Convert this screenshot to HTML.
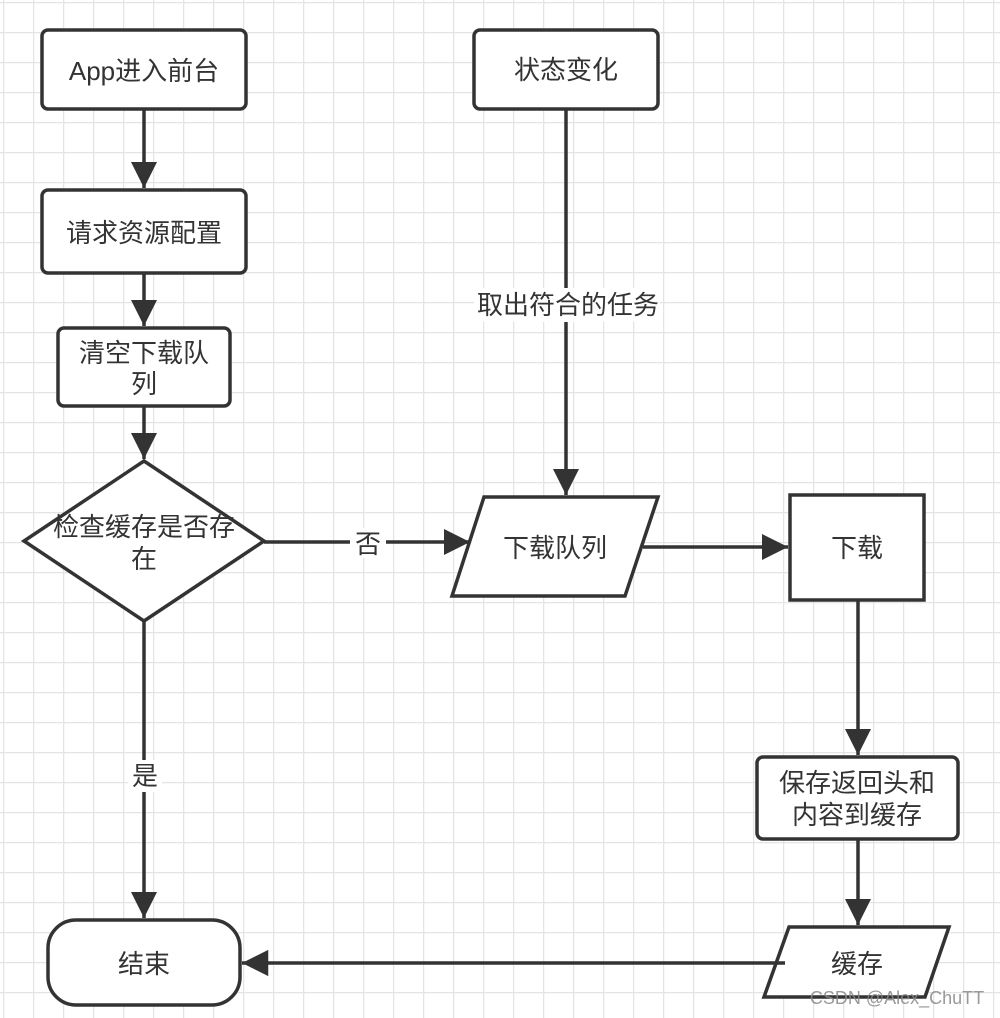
<!DOCTYPE html>
<html><head><meta charset="utf-8"><style>
html,body{margin:0;padding:0;background:#fff;}
svg{display:block;}
text{font-family:"Liberation Sans","Noto Sans CJK SC",sans-serif;font-size:26px;fill:#333;text-anchor:middle;dominant-baseline:central;}
</style></head><body>
<svg width="1000" height="1018" viewBox="0 0 1000 1018" xmlns="http://www.w3.org/2000/svg">
<defs>
<pattern id="g" x="3" y="2" width="30" height="30" patternUnits="userSpaceOnUse">
<path d="M0 0H30M0 0V30" stroke="#e4e4e4" stroke-width="2.5" fill="none"/>
</pattern>
<marker id="a" viewBox="0 0 10 10" refX="10" refY="5" markerWidth="7.5" markerHeight="8" markerUnits="strokeWidth" orient="auto">
<path d="M0 0L10 5L0 10z" fill="#333"/>
</marker>
</defs>
<rect width="1000" height="1018" fill="#fff"/>
<rect width="1000" height="1018" fill="url(#g)"/>
<g stroke="#333" stroke-width="3.5" fill="#fff">
<rect x="42" y="30" width="204" height="79" rx="6"/>
<rect x="42" y="190" width="204" height="83" rx="6"/>
<rect x="58" y="328" width="172" height="78" rx="6"/>
<polygon points="144,461 264,541 144,621 24,541"/>
<rect x="48" y="920" width="192" height="85" rx="28"/>
<rect x="474" y="30" width="184" height="79" rx="6"/>
<polygon points="484,497 658,497 625,596 452,596"/>
<rect x="790" y="495" width="134" height="105"/>
<rect x="757" y="757" width="201" height="82" rx="6"/>
<polygon points="789,927 949,927 925,997 764,997"/>
</g>
<g stroke="#333" stroke-width="3.5" fill="none" marker-end="url(#a)">
<line x1="144" y1="109" x2="144" y2="188"/>
<line x1="144" y1="273" x2="144" y2="326"/>
<line x1="144" y1="406" x2="144" y2="459"/>
<line x1="264" y1="542" x2="470" y2="542"/>
<line x1="144" y1="621" x2="144" y2="918"/>
<line x1="566" y1="109" x2="566" y2="495"/>
<line x1="643" y1="547" x2="788" y2="547"/>
<line x1="858" y1="600" x2="858" y2="755"/>
<line x1="858" y1="839" x2="858" y2="925"/>
<line x1="785" y1="963" x2="242" y2="963"/>
</g>
<rect x="350" y="528" width="36" height="30" fill="#fff"/>
<rect x="128" y="760" width="34" height="32" fill="#fff"/>
<rect x="474" y="288" width="186" height="34" fill="#fff"/>
<text x="144" y="71">App进入前台</text>
<text x="144" y="233">请求资源配置</text>
<text x="144" y="353">清空下载队</text>
<text x="144" y="384">列</text>
<text x="144" y="527">检查缓存是否存</text>
<text x="144" y="559">在</text>
<text x="368" y="544">否</text>
<text x="145" y="776">是</text>
<text x="144" y="964">结束</text>
<text x="566" y="70">状态变化</text>
<text x="568" y="305">取出符合的任务</text>
<text x="555" y="548">下载队列</text>
<text x="857" y="548">下载</text>
<text x="857" y="783">保存返回头和</text>
<text x="857" y="815">内容到缓存</text>
<text x="857" y="964">缓存</text>
<text x="897" y="998" style="font-size:18px;fill:#888;opacity:0.85">CSDN @Alex_ChuTT</text>
</svg>
</body></html>
